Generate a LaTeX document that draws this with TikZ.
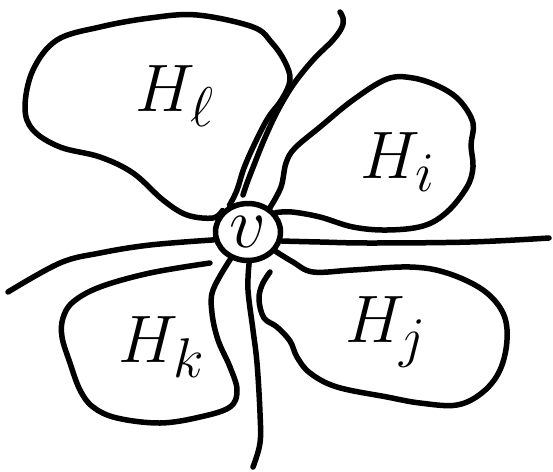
\documentclass[tikz,border=0pt]{standalone}
\usetikzlibrary{shapes.geometric}

\tikzset{
  petal/.style={smooth, tension=0.6},
  lbl/.style={font=\Huge, scale=2.7, inner sep=0pt}
}

\begin{document}
\begin{tikzpicture}[x=1pt, y=-1pt, line width=5.5pt, line cap=round, line join=round]
  \useasboundingbox (0,0) rectangle (553,471);
  \node[draw, ellipse, minimum width=65pt, minimum height=57pt, inner sep=0pt] (v) at (248,232)
    {\scalebox{2.9}{\Huge$v$}};
  % free ends
  \coordinate (stalktop) at (340,12);
  \coordinate (stalkend) at (243,195);
  \coordinate (westend) at (8,292);
  \coordinate (eastend) at (549,238);
  \coordinate (southend) at (253,467);
  \coordinate (kend) at (210,263);
  \coordinate (jend) at (270,272);
  % labels
  \node[lbl] (Hl) at (175,96) {$H_\ell$};
  \node[lbl] (Hi) at (398,162) {$H_i$};
  \node[lbl] (Hk) at (162,347) {$H_k$};
  \node[lbl] (Hj) at (386,332) {$H_j$};
  % petals
  \draw plot[petal] coordinates {(v.140) (213,218) (187,215) (163,200) (133,173) (100,157)
    (60,147) (33,130) (25,107) (33,70) (57,40) (100,27) (150,18) (197,15) (253,27)
    (272,43) (285,62) (290,80) (282,99) (268,118) (255,143) (244,168) (237,190) (v.125)};
  \draw plot[petal] coordinates {(v.48) (281,187) (286,163) (295,148) (320,127) (353,100)
    (387,79) (413,78) (440,87) (460,101) (473,123) (471,145) (473,167) (467,187)
    (447,212) (423,226) (387,230) (353,227) (320,217) (292,212) (v.35)};
  \draw plot[petal] coordinates {(v.-35) (293,262) (313,272) (353,270) (410,267) (447,273)
    (483,290) (503,313) (507,340) (500,370) (483,392) (457,405) (420,403) (387,397)
    (337,387) (310,373) (297,357) (290,341) (277,327) (264,318) (259,300) (262,285) (jend)};
  \draw plot[petal] coordinates {(kend) (150,273) (100,287) (73,302) (63,318) (62,337)
    (70,363) (80,390) (93,407) (117,418) (160,423) (200,417) (230,407) (237,390)
    (230,367) (218,340) (212,313) (213,290) (v.-123)};
  % through lines
  \draw plot[petal] coordinates {(stalktop) (343,18) (342,27) (333,40) (313,60) (293,85)
    (277,112) (264,140) (254,165) (247,183) (stalkend)};
  \draw plot[petal] coordinates {(westend) (60,263) (100,253) (150,245) (v.193)};
  \draw plot[petal] coordinates {(v.-15) (320,242) (370,243) (470,242) (eastend)};
  \draw plot[petal] coordinates {(v.-88) (248,290) (253,330) (257,363) (260,413) (260,443) (southend)};
\end{tikzpicture}
\end{document}
